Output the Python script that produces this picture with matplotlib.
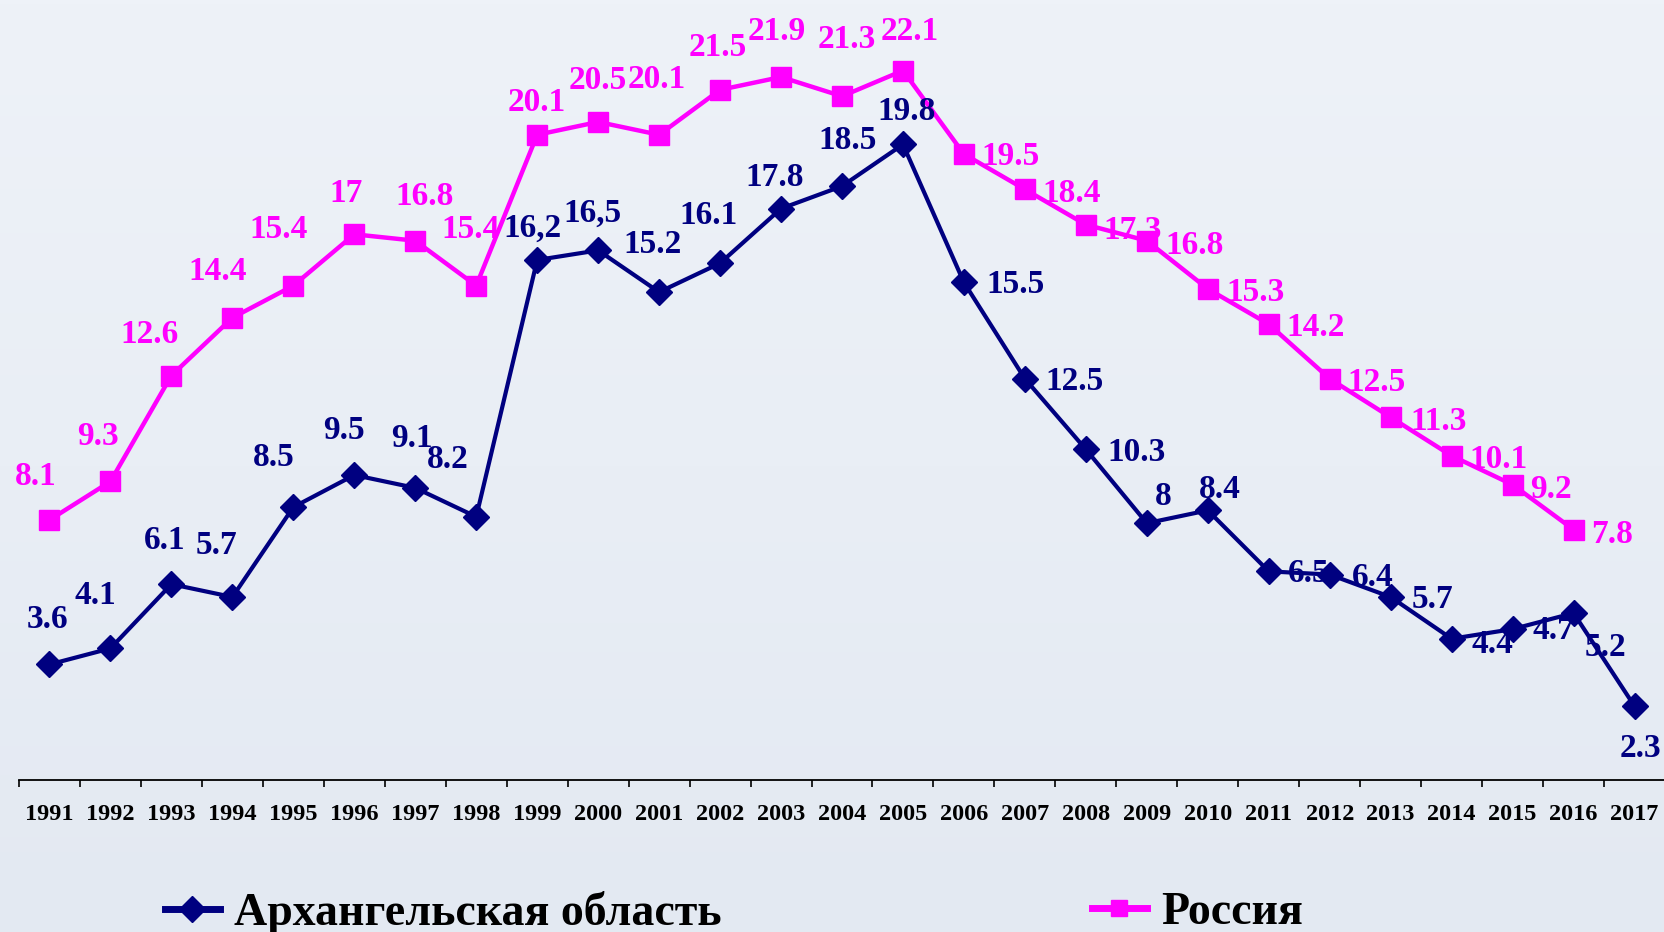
import matplotlib.pyplot as plt
import numpy as np
from matplotlib.colors import LinearSegmentedColormap
from matplotlib.lines import Line2D

years = ["1991", "1992", "1993", "1994", "1995", "1996", "1997", "1998", "1999",
         "2000", "2001", "2002", "2003", "2004", "2005", "2006", "2007", "2008",
         "2009", "2010", "2011", "2012", "2013", "2014", "2015", "2016", "2017"]

arkh = [3.6, 4.1, 6.1, 5.7, 8.5, 9.5, 9.1, 8.2, 16.2, 16.5, 15.2, 16.1, 17.8, 18.5,
        19.8, 15.5, 12.5, 10.3, 8.0, 8.4, 6.5, 6.4, 5.7, 4.4, 4.7, 5.2, 2.3]
arkh_labels = ["3.6", "4.1", "6.1", "5.7", "8.5", "9.5", "9.1", "8.2", "16,2", "16,5",
               "15.2", "16.1", "17.8", "18.5", "19.8", "15.5", "12.5", "10.3", "8",
               "8.4", "6.5", "6.4", "5.7", "4.4", "4.7", "5.2", "2.3"]

russia = [8.1, 9.3, 12.6, 14.4, 15.4, 17.0, 16.8, 15.4, 20.1, 20.5, 20.1, 21.5, 21.9,
          21.3, 22.1, 19.5, 18.4, 17.3, 16.8, 15.3, 14.2, 12.5, 11.3, 10.1, 9.2, 7.8]
russia_labels = ["8.1", "9.3", "12.6", "14.4", "15.4", "17", "16.8", "15.4", "20.1",
                 "20.5", "20.1", "21.5", "21.9", "21.3", "22.1", "19.5", "18.4", "17.3",
                 "16.8", "15.3", "14.2", "12.5", "11.3", "10.1", "9.2", "7.8"]

series_names = ["Архангельская область", "Россия"]

# label offsets from the marker, pixels (x right, y down)
arkh_off = [(-2, -47), (-15, -55), (-7, -46), (-16, -54), (-20, -52), (-10, -47),
            (-3, -52), (-28, -60), (-5, -34), (-6, -40), (-7, -50), (-12, -50),
            (-6, -34), (6, -48), (4, -35), (52, 0), (50, 0), (51, 1), (16, -29),
            (12, -23), (40, 0), (43, 0), (42, 0), (41, 3), (41, -1), (32, 32), (6, 40)]
russia_off = [(-14, -46), (-13, -47), (-22, -44), (-15, -49), (-15, -59), (-8, -43),
              (9, -47), (-6, -59), (0, -35), (0, -44), (-2, -58), (-2, -45), (-4, -48),
              (5, -59), (7, -42), (47, 0), (47, 2), (47, 3), (48, 2), (48, 1), (47, 1),
              (47, 1), (48, 2), (47, 1), (38, 2), (39, 2)]

navy = "#000080"
magenta = "#FF00FF"
serif = ["Liberation Serif", "DejaVu Serif"]

W, H = 1665, 932
fig = plt.figure(figsize=(W / 100, H / 100), dpi=100)

# soft background
bg = fig.add_axes([0, 0, 1, 1], zorder=-10)
cmap = LinearSegmentedColormap.from_list("bg", ["#EEF2F8", "#E9EEF5", "#E3E9F2"])
bg.imshow(np.linspace(0, 1, 256).reshape(-1, 1), aspect="auto", cmap=cmap,
          extent=(0, 1, 0, 1))
bg.axis("off")

ax = fig.add_axes([19 / W, (H - 780) / H, 1 - 19 / W, 780 / H])
ax.set_facecolor("none")

x = np.arange(len(years))
xr = x[:len(russia)]

ax.plot(x, arkh, color=navy, lw=3.0, marker="D", ms=13, zorder=3)
ax.plot(xr, russia, color=magenta, lw=3.2, marker="s", ms=14, zorder=3)

cap_half = 11
for xi, v, lab, (dx, dy) in zip(x, arkh, arkh_labels, arkh_off):
    ax.annotate(lab, (xi, v), xytext=(dx, -dy - cap_half), textcoords="offset pixels",
                ha="center", va="baseline", color=navy, fontsize=24,
                fontweight="bold", family=serif, zorder=4)
for xi, v, lab, (dx, dy) in zip(xr, russia, russia_labels, russia_off):
    ax.annotate(lab, (xi, v), xytext=(dx, -dy - cap_half), textcoords="offset pixels",
                ha="center", va="baseline", color=magenta, fontsize=24,
                fontweight="bold", family=serif, zorder=4)

ax.set_xlim(-0.5, len(years) - 0.5)
ax.set_ylim(0, 780 / 32.1)
ax.set_yticks([])
for side in ["left", "right", "top"]:
    ax.spines[side].set_visible(False)
ax.spines["bottom"].set_linewidth(1.3)

ax.set_xticks(x)
ax.set_xticklabels(years, fontsize=17.5, fontweight="bold", family=serif)
ax.set_xticks(np.arange(len(years) + 1) - 0.5, minor=True)
ax.tick_params(axis="x", which="major", length=0, pad=17)
ax.tick_params(axis="x", which="minor", length=5, width=1.2, direction="out")

prop = {"family": serif, "weight": "bold", "size": 33}
h1 = Line2D([], [], color=navy, lw=5, marker="D", ms=13)
h2 = Line2D([], [], color=magenta, lw=5, marker="s", ms=12)
fig.legend(handles=[h1], labels=[series_names[0]], loc="center left",
           bbox_to_anchor=(165 / W, 1 - 913 / H), frameon=False, prop=prop,
           handlelength=1.2, handletextpad=0.3, borderpad=0, borderaxespad=0)
fig.legend(handles=[h2], labels=[series_names[1]], loc="center left",
           bbox_to_anchor=(1092 / W, 1 - 913 / H), frameon=False, prop=prop,
           handlelength=1.2, handletextpad=0.3, borderpad=0, borderaxespad=0)

fig.savefig("out.png", dpi=100)
